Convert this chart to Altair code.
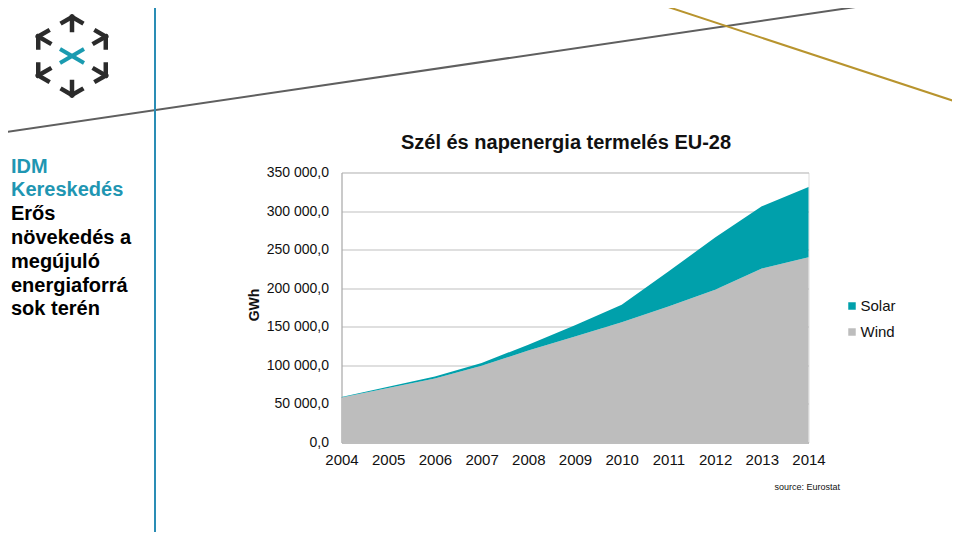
import altair as alt
import pandas as pd
import math

# ---- data ----
years = [2004, 2005, 2006, 2007, 2008, 2009, 2010, 2011, 2012, 2013, 2014]
wind = [58300, 70800, 82900, 99400, 119300, 137400, 156000, 176300, 197900, 225600, 240300]
solar = [700, 1500, 2500, 3800, 7400, 14500, 22500, 45400, 67700, 80500, 91000]
series = ["Solar", "Wind"]
series_colors = ["#00a0ab", "#bdbdbd"]
y_ticks = [0, 50000, 100000, 150000, 200000, 250000, 300000, 350000]

title_text = "Szél és napenergia termelés EU-28"
side_lines = ["IDM", "Kereskedés", "Erős", "növekedés a", "megújuló", "energiaforrá", "sok terén"]

rows = []
for i, yr in enumerate(years):
    rows.append({"year": yr, "series": "Wind", "value": wind[i], "ord": 0})
    rows.append({"year": yr, "series": "Solar", "value": solar[i], "ord": 1})
df = pd.DataFrame(rows)

FONT = "Liberation Sans"
W, H = 467, 270
OX, OY = 341.5, 172.5  # page position of plot origin

def px(x):
    return x - OX

def py(y):
    return y - OY

one = alt.Data(values=[{"a": 1}])

def seg(x1, y1, x2, y2, color, width, cap="butt"):
    return alt.Chart(one).mark_rule(color=color, strokeWidth=width, strokeCap=cap).encode(
        x=alt.value(px(x1)), y=alt.value(py(y1)), x2=alt.value(px(x2)), y2=alt.value(py(y2))
    )

def txt(s, x, y, size, color="#000000", bold=False, align="left", angle=0, baseline="middle"):
    return alt.Chart(one).mark_text(
        text=s, font=FONT, fontSize=size, color=color,
        fontWeight="bold" if bold else "normal", align=align, baseline=baseline, angle=angle
    ).encode(x=alt.value(px(x)), y=alt.value(py(y)))

area = alt.Chart(df).mark_area(interpolate="linear").encode(
    x=alt.X("year:Q", title=None,
            scale=alt.Scale(domain=[2004, 2014], nice=False, zero=False),
            axis=alt.Axis(values=years, format="d", labelFontSize=15, labelFont=FONT,
                          labelColor="#111111", ticks=False, grid=False, domainColor="#a6a6a6",
                          labelPadding=10, labelOverlap=False, labelFlush=False)),
    y=alt.Y("value:Q", stack="zero", title=None,
            scale=alt.Scale(domain=[0, 350000], nice=False),
            axis=alt.Axis(values=y_ticks, ticks=False, grid=True, gridColor="#bfbfbf",
                          domainColor="#a6a6a6", labelFontSize=14, labelFont=FONT,
                          labelColor="#111111", labelPadding=13, labelOverlap=False,
                          labelExpr="replace(replace(format(datum.value, ',.1f'), ',', ' '), '.', ',')")),
    color=alt.Color("series:N", scale=alt.Scale(domain=series, range=series_colors),
                    legend=alt.Legend(title=None, orient="none", legendX=503, legendY=126,
                                      symbolType="square", symbolSize=56, labelFontSize=15,
                                      labelFont=FONT, labelColor="#111111", rowPadding=10,
                                      labelOffset=1, padding=0, symbolStrokeWidth=0)),
    order=alt.Order("ord:Q"),
)

layers = [area]

# decorative slide lines
layers.append(seg(0, 133, 903, 0, "#5f5f5f", 2))
layers.append(seg(647, 0, 960, 103, "#b8942e", 2))
layers.append(seg(155, 0, 155, 540, "#2a8db5", 2))

# logo: hexagon vertices with arrow strokes
cx, cy, R = 72, 56, 39
for k in range(6):
    ang = math.radians(90 + 60 * k)
    vx, vy = cx + R * math.cos(ang), cy - R * math.sin(ang)
    for d in (-1, 1):
        nang = math.radians(90 + 60 * (k + d))
        nx, ny = cx + R * math.cos(nang), cy - R * math.sin(nang)
        L = 11 / R
        layers.append(seg(vx, vy, vx + (nx - vx) * L, vy + (ny - vy) * L, "#2b2b2b", 4.5, "square"))
    sl = 13 / R
    layers.append(seg(vx, vy, vx + (cx - vx) * sl, vy + (cy - vy) * sl, "#2b2b2b", 4.5, "square"))
layers.append(seg(60, 49, 84, 63, "#1a9bb0", 4))
layers.append(seg(60, 63, 84, 49, "#1a9bb0", 4))

# side text
side_y = [167, 190, 214, 238, 262, 286, 309]
for i, s in enumerate(side_lines):
    col = "#1f96b2" if i < 2 else "#000000"
    layers.append(txt(s, 11, side_y[i], 20, col, bold=True))

# chart texts
layers.append(txt(title_text, 566, 143, 20, "#111111", bold=True, align="center"))
layers.append(txt("GWh", 255, 305, 14, "#111111", bold=True, align="center", angle=270))
layers.append(txt("source: Eurostat", 840, 487, 9, "#111111", align="right"))

chart = alt.layer(*layers).properties(
    width=W, height=H,
    autosize=alt.AutoSizeParams(type="none"),
    padding={"left": 333.5, "top": 164.5, "right": 952 - OX - W, "bottom": 532 - OY - H},
).configure_view(strokeWidth=0).configure(background="#ffffff")

chart.save("out.html", embed_options={"renderer": "svg", "actions": False})
